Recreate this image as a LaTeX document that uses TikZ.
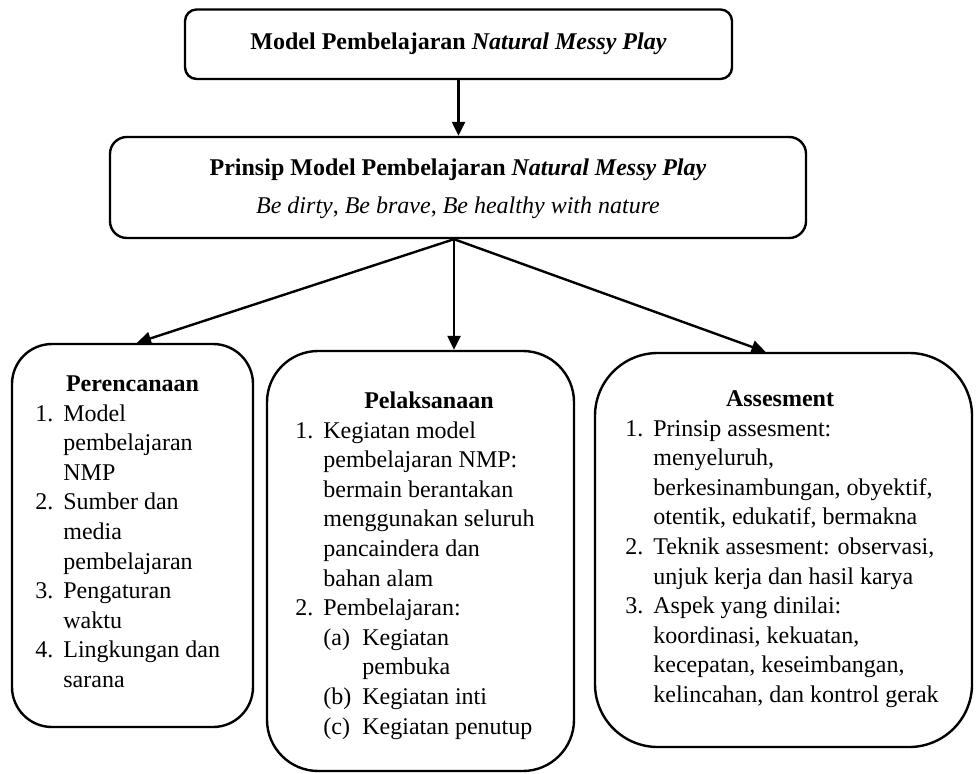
\documentclass[tikz,border=0pt]{standalone}
\usepackage{fontspec}
\setmainfont{Liberation Serif}
\usetikzlibrary{arrows.meta,calc}

\begin{document}
\begin{tikzpicture}[x=0.5pt,y=-0.5pt,
  box/.style={draw, line width=1.2pt, inner sep=0pt},
  conn/.style={line width=1.2pt, -{Triangle[length=7pt,width=6.5pt]}},
  lbl/.style={font=\fontsize{12}{14.8}\selectfont, inner sep=0pt}]
\useasboundingbox (0,0) rectangle (977,774);

% ---- boxes ----
\node[box, rounded corners=5.8pt, minimum width=273.5pt, minimum height=34.75pt] (top) at (458.5,44.25) {};
\node[box, rounded corners=8.4pt, minimum width=348pt, minimum height=50.5pt] (sec) at (458,187.5) {};
\node[box, rounded corners=20pt, minimum width=120.5pt, minimum height=191.5pt] (lft) at (132.5,535.5) {};
\node[box, rounded corners=25.6pt, minimum width=153.5pt, minimum height=210pt] (mid) at (420.5,561) {};
\node[box, rounded corners=31.4pt, minimum width=188.5pt, minimum height=197pt] (rgt) at (783.5,550) {};

% ---- headings ----
\node[lbl, font=\fontsize{12}{14.8}\selectfont\bfseries] (toptxt) at (top.center)
  {Model Pembelajaran \textit{Natural Messy Play}};
\node[lbl, font=\fontsize{12}{14.8}\selectfont\bfseries, anchor=base] (sect1) at (458,176)
  {Prinsip Model Pembelajaran \textit{Natural Messy Play}};
\node[lbl, anchor=base] (sect2) at (458,214)
  {\textit{Be dirty}, \textit{Be brave}, \textit{Be healthy with nature}};

% ---- Perencanaan ----
\node[lbl, font=\fontsize{12}{14.8}\selectfont\bfseries, anchor=base] (lfthead) at (132.5,391) {Perencanaan};
\node[lbl, anchor=base west] (lftlist) at (35,421) {%
\begin{tabular}[t]{@{}l@{}l@{}}
\makebox[14pt][l]{1.} & Model\\
 & pembelajaran\\
 & NMP\\
\makebox[14pt][l]{2.} & Sumber dan\\
 & media\\
 & pembelajaran\\
\makebox[14pt][l]{3.} & Pengaturan\\
 & waktu\\
\makebox[14pt][l]{4.} & Lingkungan dan\\
 & sarana
\end{tabular}};

% ---- Pelaksanaan ----
\node[lbl, font=\fontsize{12}{14.8}\selectfont\bfseries, anchor=base] (midhead) at (429,408) {Pelaksanaan};
\node[lbl, anchor=base west] (midlist) at (295,438) {%
\begin{tabular}[t]{@{}l@{}l@{}}
\makebox[14pt][l]{1.} & Kegiatan model\\
 & pembelajaran NMP:\\
 & bermain berantakan\\
 & menggunakan seluruh\\
 & pancaindera dan\\
 & bahan alam\\
\makebox[14pt][l]{2.} & Pembelajaran:\\
 & \makebox[19.5pt][l]{(a)}Kegiatan\\
 & \hspace{19.5pt}pembuka\\
 & \makebox[19.5pt][l]{(b)}Kegiatan inti\\
 & \makebox[19.5pt][l]{(c)}Kegiatan penutup
\end{tabular}};

% ---- Assesment ----
\node[lbl, font=\fontsize{12}{14.8}\selectfont\bfseries, anchor=base] (rgthead) at (780,406) {Assesment};
\node[lbl, anchor=base west] (rgtlist) at (625,436) {%
\begin{tabular}[t]{@{}l@{}l@{}}
\makebox[14pt][l]{1.} & Prinsip assesment:\\
 & menyeluruh,\\
 & berkesinambungan, obyektif,\\
 & otentik, edukatif, bermakna\\
\makebox[14pt][l]{2.} & Teknik assesment: observasi,\\
 & unjuk kerja dan hasil karya\\
\makebox[14pt][l]{3.} & Aspek yang dinilai:\\
 & koordinasi, kekuatan,\\
 & kecepatan, keseimbangan,\\
 & kelincahan, dan kontrol gerak
\end{tabular}};

% ---- connectors ----
\coordinate (fork) at ($(sec.south)+(-4,0)$);
\coordinate (lftin) at ($(lft.north)+(4.5,0)$);
\coordinate (rgtin) at ($(rgt.north)+(-18,0)$);
\draw[conn] (top.south) -- (top.south |- sec.north);
\draw[conn] (fork) -- (lftin);
\draw[conn] (fork) -- (fork |- mid.north);
\draw[conn] (fork) -- (rgtin);
\end{tikzpicture}
\end{document}
